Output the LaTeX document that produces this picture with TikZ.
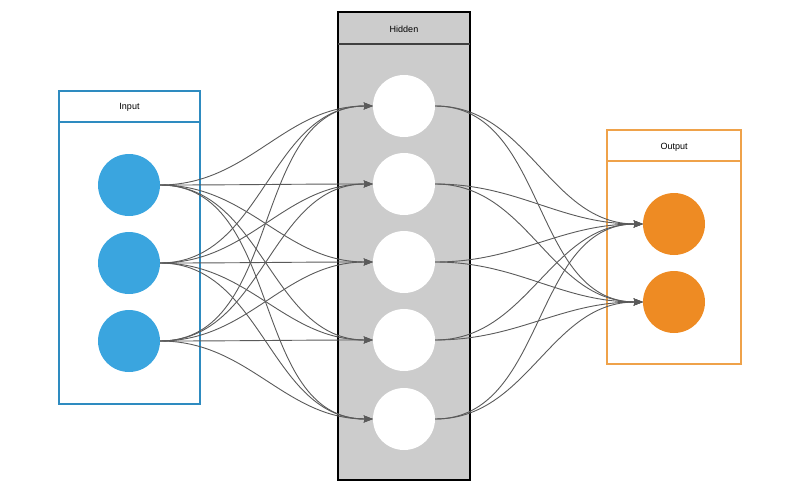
\documentclass[tikz,border=0pt]{standalone}
\usepackage{fontspec}
\setmainfont{Liberation Sans}
\usetikzlibrary{arrows.meta}
\definecolor{inline}{HTML}{2E8BC0}
\definecolor{infill}{HTML}{3AA5DF}
\definecolor{outline}{HTML}{EFA24A}
\definecolor{outfill}{HTML}{EE8B23}
\definecolor{hidfill}{HTML}{CCCCCC}
\definecolor{edgecol}{HTML}{5A5A5A}
\tikzset{
  neuron/.style={circle, minimum size=62pt, inner sep=0pt, draw=none},
  inneuron/.style={neuron, fill=infill},
  hidneuron/.style={neuron, fill=white},
  outneuron/.style={neuron, fill=outfill},
  header/.style={font=\fontsize{9}{11}\selectfont, text=black},
  edge/.style={draw=edgecol, line width=0.9pt, -{Stealth[length=9pt,width=7pt,inset=1pt]}, out=0, in=180}
}
\begin{document}
\begin{tikzpicture}[x=1pt,y=-1pt]
\useasboundingbox (0,0) rectangle (800,495);
% boxes
\draw[inline, line width=1.3pt] (59,91) rectangle (200,404);
\draw[inline, line width=1.3pt] (59,122) -- (200,122);
\draw[black, fill=hidfill, line width=1.2pt] (338,12) rectangle (470,480);
\draw[black!75, line width=1.5pt] (338,44) -- (470,44);
\draw[outline, line width=1.2pt] (607,130) rectangle (741,364);
\draw[outline, line width=1.2pt] (607,161) -- (741,161);
\node[header] (inlabel) at (129.5,107) {Input};
\node[header] (hidlabel) at (404,29) {Hidden};
\node[header] (outlabel) at (674,147) {Output};
% neurons
\node[inneuron] (i1) at (129,185) {};
\node[inneuron] (i2) at (129,263) {};
\node[inneuron] (i3) at (129,341) {};
\node[hidneuron] (h1) at (404,106) {};
\node[hidneuron] (h2) at (404,184) {};
\node[hidneuron] (h3) at (404,262) {};
\node[hidneuron] (h4) at (404,340) {};
\node[hidneuron] (h5) at (404,419) {};
\node[outneuron] (o1) at (674,224) {};
\node[outneuron] (o2) at (674,302) {};
% edges
\foreach \a in {i1,i2,i3}{
  \foreach \b in {h1,h2,h3,h4,h5}{
    \draw[edge] (\a.east) to (\b.west);
  }
}
\foreach \a in {h1,h2,h3,h4,h5}{
  \foreach \b in {o1,o2}{
    \draw[edge] (\a.east) to (\b.west);
  }
}
\end{tikzpicture}
\end{document}
